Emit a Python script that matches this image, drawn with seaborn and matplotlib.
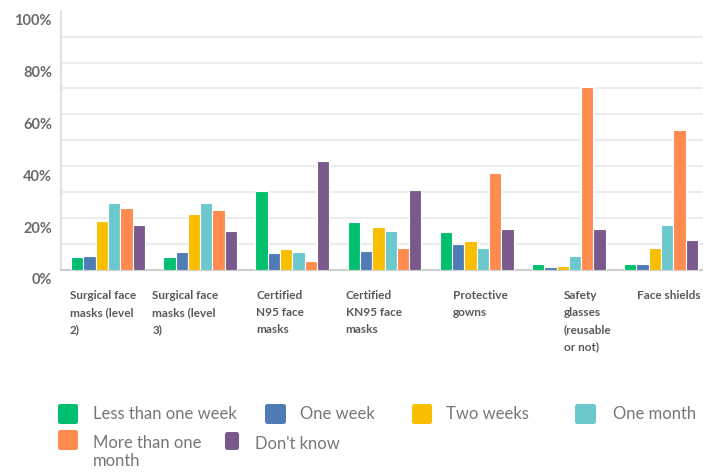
import matplotlib
matplotlib.use("Agg")
import matplotlib.pyplot as plt
from matplotlib.transforms import ScaledTranslation, IdentityTransform
from matplotlib.patches import FancyBboxPatch
import seaborn as sns
import pandas as pd

# ---------------- data ----------------
categories = [
    "Surgical face\nmasks (level\n2)",
    "Surgical face\nmasks (level\n3)",
    "Certified\nN95 face\nmasks",
    "Certified\nKN95 face\nmasks",
    "Protective\ngowns",
    "Safety\nglasses\n(reusable\nor not)",
    "Face shields",
]
series = ["Less than one week", "One week", "Two weeks", "One month",
          "More than one month", "Don't know"]
less_than_one_week = [5, 5, 30.5, 18.5, 14.5, 2.5, 2.5]
one_week = [5.5, 7, 6.5, 7.5, 10, 1, 2.5]
two_weeks = [19, 21.5, 8, 16.5, 11, 1.5, 8.5]
one_month = [26, 26, 7, 15, 8.5, 5.5, 17.5]
more_than_one_month = [24, 23, 3.5, 8.5, 37.5, 70.5, 54]
dont_know = [17.5, 15, 42, 31, 16, 16, 11.5]
y_ticks = [0, 10, 20, 30, 40, 50, 60, 70, 80, 90, 100]
legend_labels = ["Less than one week", "One week", "Two weeks", "One month",
                 "More than one\nmonth", "Don't know"]

# ---------------- style ----------------
colors = ["#00BF6F", "#507CB6", "#F9BE00", "#6BC8CD", "#FF8B4F", "#7A5A8C"]
label_font = ["Lato", "DejaVu Sans"]

all_vals = [less_than_one_week, one_week, two_weeks, one_month,
            more_than_one_month, dont_know]
rows = []
for s, vals in zip(series, all_vals):
    for c, v in zip(categories, vals):
        rows.append({"item": c, "duration": s, "pct": v})
df = pd.DataFrame(rows)

sns.set_style("white")
W, H = 703, 472
fig = plt.figure(figsize=(W / 100, H / 100), dpi=100)
ax = fig.add_axes([61 / W, 1 - 270 / H, 1 - 61 / W, 259.3 / H])

sns.barplot(data=df, x="item", y="pct", hue="duration", order=categories,
            hue_order=series, palette=colors, saturation=1, width=0.8,
            edgecolor="white", linewidth=0.8, legend=False, ax=ax, zorder=3)

ax.set_xlim(-0.51, 6.455)
ax.set_ylim(0, 100)
ax.set_xlabel("")
ax.set_ylabel("")

# y axis
ax.set_yticks(y_ticks)
ax.set_yticklabels([f"{t}%" if t % 20 == 0 else "" for t in y_ticks],
                   family=["Lato", "DejaVu Sans"], fontsize=10.5, color="#6a6a6a",
                   fontweight="bold")
ax.tick_params(axis="y", length=0, pad=6.5)
for lab in ax.get_yticklabels():
    lab.set_transform(lab.get_transform() + ScaledTranslation(0, -9 / 100, fig.dpi_scale_trans))
ax.yaxis.grid(True, color="#ececec", linewidth=1.5, zorder=0)
ax.yaxis.get_gridlines()[-1].set_visible(False)
ax.xaxis.grid(False)

# x axis
ax.set_xticks(range(len(categories)))
ax.set_xticklabels(categories, ha="left", va="top", family=label_font,
                   fontsize=8.5, fontweight="bold", color="#595959",
                   linespacing=1.65)
ax.tick_params(axis="x", length=0, pad=14.5)
x_offsets = [-38, -48, -36, -39, -24, -5, -24]
for lab, dx in zip(ax.get_xticklabels(), x_offsets):
    lab.set_transform(lab.get_transform() + ScaledTranslation(dx / 100, 0, fig.dpi_scale_trans))

for side in ["top", "right"]:
    ax.spines[side].set_visible(False)
ax.spines["left"].set_color("#d9d9d9")
ax.spines["left"].set_linewidth(1.2)
ax.spines["bottom"].set_color("#cfcfcf")
ax.spines["bottom"].set_linewidth(1.5)

# legend (manual layout, pixel positions)
legend_layout = [  # (patch_x, patch_top, patch_w, patch_h, text_x, text_y_center)
    (58, 404, 20, 20, 93, 414),
    (265, 404, 21, 20, 300, 414),
    (412, 404, 20, 20, 446, 414),
    (575, 404, 21, 20, 613, 414),
    (58, 430, 20, 20, 93, 452),
    (225, 432, 14, 18, 255, 444),
]
for (px, py, pw, ph, tx, ty), lab, col in zip(legend_layout, legend_labels, colors):
    patch = FancyBboxPatch((px, H - py - ph), pw, ph,
                           boxstyle="round,pad=0,rounding_size=2.5",
                           transform=IdentityTransform(), facecolor=col,
                           edgecolor="none")
    fig.patches.append(patch)
    fig.text(tx / W, 1 - ty / H, lab, ha="left", va="center", fontsize=12,
             family=label_font, color="#777777", linespacing=1.2)

fig.savefig("out.png", dpi=100)
